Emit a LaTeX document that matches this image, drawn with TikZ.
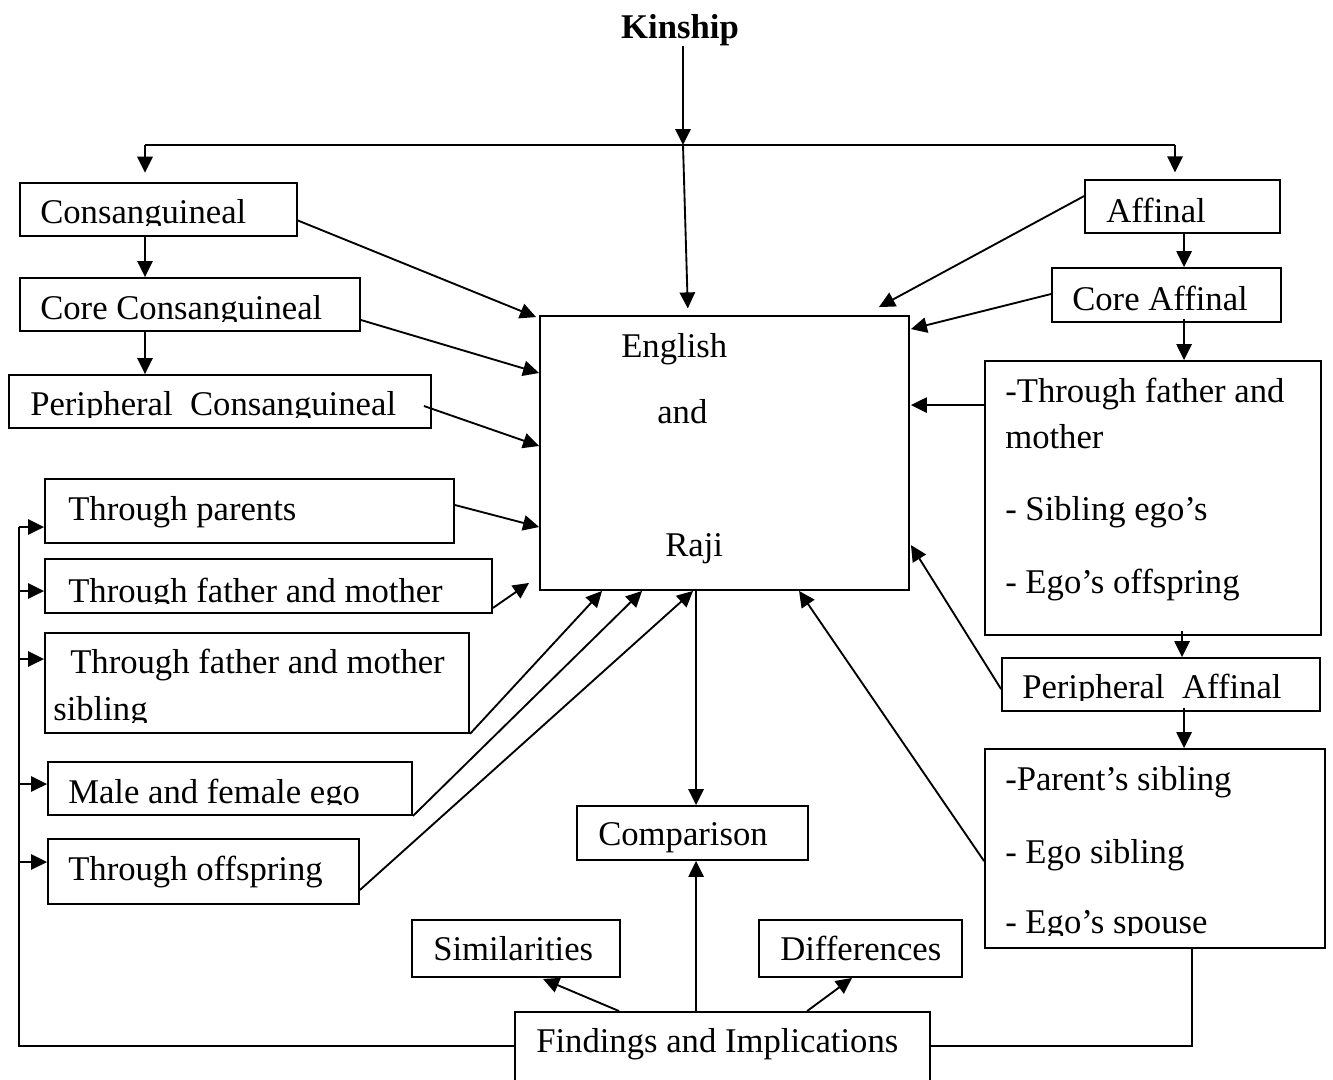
\documentclass[tikz,border=0pt]{standalone}
\usepackage{fontspec}
\setmainfont{Liberation Serif}
\usetikzlibrary{arrows.meta,fit,calc}

% a framed box given by its top-left and bottom-right corners
\newcommand\kbox[5]{%
  \path (#2,#3) coordinate (#1-a) (#4,#5) coordinate (#1-b);
  \node[box, fit=(#1-a)(#1-b)] (#1) {};}

\begin{document}
\begin{tikzpicture}[x=0.75pt,y=-0.75pt,
  box/.style={draw, line width=1.4pt, inner sep=0pt},
  txt/.style={font=\fontsize{26}{30}\selectfont, inner sep=0pt, anchor=base west},
  link/.style={line width=1.4pt},
  arr/.style={link, -{Triangle[length=12pt,width=11.5pt]}},
]
\useasboundingbox (0,0) rectangle (1333,1079);
\fill[white] (0,0) rectangle (1333,1079);

% ---------- boxes ----------
\kbox{cons}{20}{183}{297}{236}
\kbox{core}{20}{278}{360}{331}
\kbox{peri}{9}{375}{431}{428}
\kbox{tpar}{45}{479}{454}{543}
\kbox{tfm}{45}{559}{492}{613}
\kbox{tfms}{45}{633}{469}{733}
\kbox{male}{48}{762}{412}{815}
\kbox{offs}{48}{839}{359}{904}
\kbox{ctr}{540}{316}{909}{590}
\kbox{aff}{1085}{180}{1280}{233}
\kbox{caff}{1052}{268}{1281}{322}
\kbox{tfmr}{985}{361}{1321}{635}
\kbox{paff}{1002}{658}{1320}{711}
\kbox{psib}{985}{749}{1325}{948}
\kbox{comp}{577}{806}{808}{860}
\kbox{sim}{412}{920}{620}{977}
\kbox{diff}{759}{920}{962}{977}
\kbox{find}{515}{1012}{930}{1100}

% ---------- texts ----------
\node[txt, font=\fontsize{26}{30}\selectfont\bfseries, anchor=base] (kin) at (680,38) {Kinship};

\begin{scope}\clip (20,183) rectangle (297,225);
  \node[txt] (t-cons) at (40,223) {Consanguineal};\end{scope}
\begin{scope}\clip (20,278) rectangle (360,321);
  \node[txt] (t-core) at (40,319) {Core Consanguineal};\end{scope}
\begin{scope}\clip (9,375) rectangle (431,417);
  \node[txt] (t-peri) at (30,415) {Peripheral\ \ Consanguineal};\end{scope}
\node[txt] (t-tpar) at (68,520) {Through parents};
\begin{scope}\clip (45,559) rectangle (492,603);
  \node[txt] (t-tfm) at (68,602) {Through father and mother};\end{scope}
\node[txt] (t-tfms1) at (70,673) {Through father and mother};
\begin{scope}\clip (45,633) rectangle (469,722);
  \node[txt] (t-tfms2) at (53,720) {sibling};\end{scope}
\begin{scope}\clip (48,762) rectangle (412,804);
  \node[txt] (t-male) at (68,803) {Male and female ego};\end{scope}
\node[txt] (t-offs) at (68,880) {Through offspring};

\node[txt] (t-eng) at (621,357) {English};
\node[txt] (t-and) at (657,423) {and};
\node[txt] (t-raji) at (665,556) {Raji};

\node[txt] (t-aff) at (1106,222) {Affinal};
\node[txt] (t-caff) at (1072,310) {Core Affinal};
\node[txt] (t-r1) at (1005,402) {-Through father and};
\node[txt] (t-r2) at (1005,448) {mother};
\node[txt] (t-r3) at (1005,520) {- Sibling ego’s};
\node[txt] (t-r4) at (1005,593) {- Ego’s offspring};
\begin{scope}\clip (1002,658) rectangle (1320,700);
  \node[txt] (t-paff) at (1022,698) {Peripheral\ \ Affinal};\end{scope}
\node[txt] (t-p1) at (1005,790) {-Parent’s sibling};
\node[txt] (t-p2) at (1005,863) {- Ego sibling};
\begin{scope}\clip (985,749) rectangle (1325,935);
  \node[txt] (t-p3) at (1005,933) {- Ego’s spouse};\end{scope}

\node[txt] (t-comp) at (598,845) {Comparison};
\node[txt] (t-sim) at (433,960) {Similarities};
\node[txt] (t-diff) at (780,960) {Differences};
\node[txt] (t-find) at (536,1052) {Findings and Implications};

% ---------- top distribution ----------
\coordinate (hub) at (683,145);
\coordinate (hl) at (145,145);
\coordinate (hr) at (1175,145);
\draw[arr] (hub |- kin.south) -- (hub);
\draw[link] (hl) -- (hr);
\draw[arr, shorten >=7pt] (hl) -- (hl |- cons.north);
\draw[arr, shorten >=5pt] (hr) -- (hr |- aff.north);
\draw[arr, shorten >=5pt] (hub) -- ($(hub |- ctr.north)+(5,0)$);

% ---------- consanguineal chain ----------
\draw[arr] (hl |- cons.south) -- (hl |- core.north);
\draw[arr] (hl |- core.south) -- (hl |- peri.north);

% ---------- affinal chain ----------
\coordinate (rx) at ($(aff.south west)+(100,0)$);
\draw[arr] (rx) -- (rx |- caff.north);
\draw[arr] ($(rx |- caff.south)+(0,-4)$) -- (rx |- tfmr.north);
\draw[arr] ($(rx |- tfmr.south)+(-2,-5)$) -- ($(rx |- paff.north)+(-2,0)$);
\draw[arr] ($(rx |- paff.south)+(0,-4)$) -- (rx |- psib.north);

% ---------- links into the central box ----------
\draw[arr] ($(cons.east)+(0,11)$) -- ($(ctr.north west)+(-3,2)$);
\draw[arr] ($(core.east)+(0,15.5)$) -- ($(ctr.west)+(0,-80)$);
\draw[arr] ($(peri.east)+(-8,4.5)$) -- ($(ctr.west)+(0,-7)$);
\draw[arr] ($(tpar.east)+(0,-6)$) -- ($(ctr.west)+(0,74)$);
\draw[arr] ($(tfm.south east)+(0,-6)$) -- ($(ctr.south west)+(-10,-8)$);
\draw[arr] (tfms.south east) -- ($(ctr.south west)+(63,0)$);
\draw[arr] (male.south east) -- ($(ctr.south west)+(103,0)$);
\draw[arr] ($(offs.south east)+(0,-15)$) -- ($(ctr.south west)+(154,0)$);

\draw[arr] ($(aff.north west)+(0,17)$) -- ($(ctr.north east)+(-31,-8)$);
\draw[arr] ($(caff.west)+(0,-1)$) -- ($(ctr.north east)+(1,14)$);
\draw[arr] ($(tfmr.north west)+(0,45)$) -- ($(ctr.north east)+(1,90)$);
\draw[arr] ($(paff.north west)+(0,32)$) -- ($(ctr.north east)+(1,230)$);
\draw[arr] ($(psib.north west)+(0,113)$) -- ($(ctr.south west)+(260,0)$);

% ---------- comparison and findings ----------
\coordinate (vx) at ($(ctr.south west)+(157,0)$);
\draw[arr] (vx) -- (vx |- comp.north);
\draw[arr] (vx |- find.north) -- (vx |- comp.south);
\draw[arr] ($(find.north west)+(105,0)$) -- ($(sim.south)+(27,1)$);
\draw[arr] ($(find.north west)+(293,0)$) -- ($(diff.south)+(-8.5,0)$);

% ---------- feedback buses ----------
\coordinate (bus) at ($(tpar.west)+(-25,16)$);
\draw[link] ($(find.north west)+(0,35)$) -| (bus);
\draw[arr] (bus) -- ($(tpar.west)+(0,16)$);
\path ($(tfm.west)+(0,5)$) coordinate (b2)
      ($(tfms.west)+(0,-24)$) coordinate (b3)
      ($(male.west)+(0,-4.5)$) coordinate (b4)
      ($(offs.west)+(0,-9.5)$) coordinate (b5);
\draw[arr] (bus |- b2) -- (b2);
\draw[arr] (bus |- b3) -- (b3);
\draw[arr] (bus |- b4) -- (b4);
\draw[arr] (bus |- b5) -- (b5);
\draw[link] ($(psib.south)+(37,0)$) |- ($(find.north east)+(0,35)$);
\end{tikzpicture}
\end{document}
